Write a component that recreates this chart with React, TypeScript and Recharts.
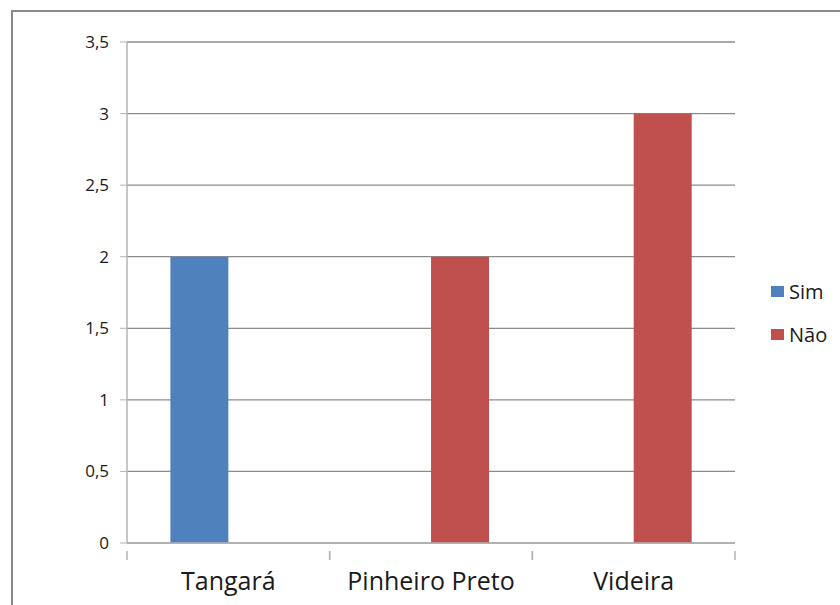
import { BarChart, Bar, XAxis, YAxis, CartesianGrid, Legend } from 'recharts';

const categorias = ['Tangará', 'Pinheiro Preto', 'Videira'];
const series = ['Sim', 'Não'];
const sim = [2, 0, 0];
const nao = [0, 2, 3];
const yTicks = [0, 0.5, 1, 1.5, 2, 2.5, 3, 3.5];

const data = categorias.map((nome, i) => ({ nome, Sim: sim[i], Não: nao[i] }));

const FONT = '"Open Sans", sans-serif';
const AXIS = '#b4b4b4';

// category label in the middle, tick marks on the band edges like Excel
function XTick(props: any) {
    const { x, y, payload, width, visibleTicksCount } = props;
    const half = payload.offset || width / visibleTicksCount / 2;
    return (
        <g>
            <line x1={x - half} x2={x - half} y1={y} y2={y + 9} stroke={AXIS} strokeWidth={1.5} />
            <line x1={x + half} x2={x + half} y1={y} y2={y + 9} stroke={AXIS} strokeWidth={1.5} />
            <text x={x} y={y + 17} textAnchor="middle" dominantBaseline="hanging" fontSize={25} fontFamily={FONT} fill="#1a1a1a">
                {payload.value}
            </text>
        </g>
    );
}

function LegendBox(props: any) {
    const items = props.payload || [];
    const ordered = series.map(s => items.find((it: any) => it.value === s)).filter(Boolean);
    return (
        <div style={{ fontFamily: FONT, fontSize: 20, color: '#1a1a1a' }}>
            {ordered.map((it: any) => (
                <div key={it.value} style={{ display: 'flex', alignItems: 'center', height: 43 }}>
                    <span style={{ width: 13, height: 11, background: it.color, display: 'inline-block', marginRight: 5 }} />
                    {it.value}
                </div>
            ))}
        </div>
    );
}

export default function App() {
    return (
        <div style={{ position: 'absolute', left: 0, top: 0, width: 840, height: 605, overflow: 'hidden', background: '#fff' }}>
            <div style={{ position: 'absolute', left: 11, top: 10, width: 850, height: 620, border: '2px solid #888' }} />
            <div style={{ position: 'absolute', left: 0, top: 0 }}>
                <BarChart width={840} height={605} data={data} margin={{ top: 42, right: 35, bottom: 0, left: 0 }} barCategoryGap="21.4%" barGap={0}>
                    <CartesianGrid vertical={false} stroke="#8c8c8c" strokeWidth={1.3} />
                    <XAxis dataKey="nome" interval={0} tickLine={false} axisLine={{ stroke: AXIS, strokeWidth: 1.5 }} tick={<XTick />} height={62} />
                    <YAxis
                        width={127}
                        domain={[0, 3.5]}
                        ticks={yTicks}
                        interval={0}
                        tickFormatter={(v: number) => String(v).replace('.', ',')}
                        tick={{ fontSize: 17, fontFamily: FONT, fill: '#1a1a1a' }}
                        tickSize={7}
                        tickMargin={11}
                        tickLine={{ stroke: AXIS }}
                        axisLine={{ stroke: AXIS, strokeWidth: 1.5 }}
                    />
                    <Legend layout="horizontal" verticalAlign="middle" align="right" content={<LegendBox />} wrapperStyle={{ position: 'absolute', left: 771, top: 270, width: 70 }} />
                    <Bar dataKey="Sim" fill="#4f81bd" isAnimationActive={false} />
                    <Bar dataKey="Não" fill="#c0504d" isAnimationActive={false} />
                </BarChart>
            </div>
        </div>
    );
}
